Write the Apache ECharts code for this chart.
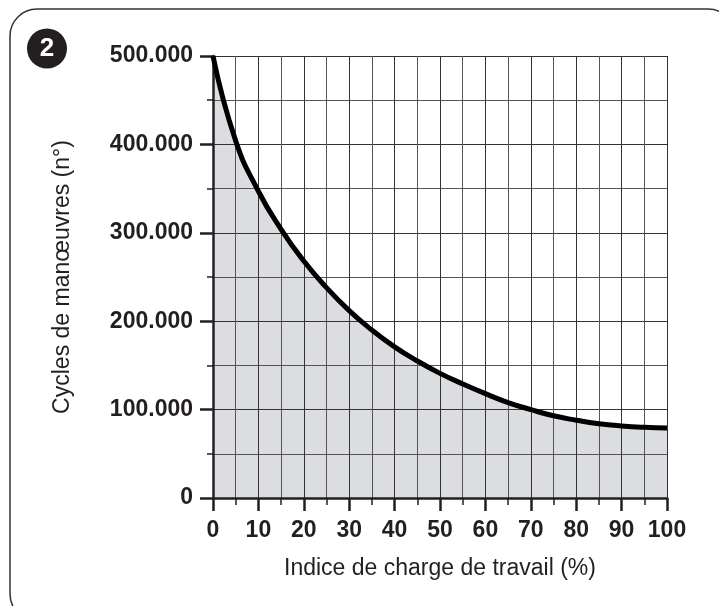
<!DOCTYPE html>
<html>
<head>
<meta charset="utf-8">
<script src="https://cdn.jsdelivr.net/npm/echarts@6/dist/echarts.min.js"></script>
<style>
html,body{margin:0;padding:0;background:#fff;}
#c{width:719px;height:606px;}
</style>
</head>
<body>
<div id="c"></div>
<script>
// Data
const loadIndex = [0, 5, 10, 15, 20, 25, 30, 35, 40, 45, 50, 55, 60, 65, 70, 75, 80, 85, 90, 95, 100];
const cycles = [500000, 404000, 347000, 304000, 268000, 238000, 212000, 190000, 171000, 155000, 141000, 129000, 118000, 108000, 100000, 93000, 88000, 84000, 81500, 80000, 79300];
const xTitle = 'Indice de charge de travail (%)';
const yTitle = 'Cycles de manœuvres (n°)';
const figureNumber = '2';

const points = loadIndex.map((x, i) => [x, cycles[i]]);
const ink = '#231f20';
const fontFam = '"Liberation Sans", Arial, Helvetica, sans-serif';

function fmtThousands(v) {
  if (v === 0) return '0';
  return String(v).replace(/\B(?=(\d{3})+(?!\d))/g, '.');
}

const chart = echarts.init(document.getElementById('c'), null, {renderer: 'canvas'});
chart.setOption({
  animation: false,
  backgroundColor: '#ffffff',
  grid: {left: 213, right: 52, top: 56, bottom: 108, containLabel: false},
  xAxis: {
    type: 'value', min: 0, max: 100, interval: 10, z: 3,
    name: xTitle, nameLocation: 'middle', nameGap: 59,
    nameTextStyle: {fontFamily: fontFam, fontSize: 23, color: ink},
    axisLine: {show: true, onZero: false, lineStyle: {color: ink, width: 2.5}},
    axisTick: {show: true, length: 13, lineStyle: {color: ink, width: 2.5}},
    minorTick: {show: true, splitNumber: 2, length: 7, lineStyle: {color: ink, width: 1.5}},
    axisLabel: {fontFamily: fontFam, fontSize: 23, fontWeight: 'bold', color: ink, margin: 21},
    splitLine: {show: true, lineStyle: {color: '#333', width: 1}},
    minorSplitLine: {show: true, lineStyle: {color: '#555', width: 1}}
  },
  yAxis: {
    type: 'value', min: 0, max: 500000, interval: 100000, z: 3,
    name: yTitle, nameLocation: 'middle', nameGap: 139, nameRotate: 90,
    nameTextStyle: {fontFamily: fontFam, fontSize: 23, color: ink},
    axisLine: {show: true, onZero: false, lineStyle: {color: ink, width: 2.5}},
    axisTick: {show: true, length: 13, lineStyle: {color: ink, width: 2.5}},
    minorTick: {show: true, splitNumber: 2, length: 6, lineStyle: {color: ink, width: 1.5}},
    axisLabel: {fontFamily: fontFam, fontSize: 23, fontWeight: 'bold', color: ink, margin: 20,
      formatter: fmtThousands},
    splitLine: {show: true, lineStyle: {color: '#333', width: 1}},
    minorSplitLine: {show: true, lineStyle: {color: '#555', width: 1}}
  },
  series: [
    {
      type: 'line', data: points, smooth: 0.5, showSymbol: false, z: 1,
      lineStyle: {width: 0, color: 'transparent'},
      areaStyle: {color: '#dcdde0', opacity: 1}
    },
    {
      type: 'line', data: points, smooth: 0.5, showSymbol: false, z: 5,
      lineStyle: {width: 5, color: '#000'}
    }
  ],
  graphic: [
    {type: 'rect', z: 10, silent: true,
      shape: {x: 10, y: 9, width: 725, height: 612, r: 27},
      style: {fill: 'none', stroke: '#333', lineWidth: 1.5}},
    {type: 'circle', z: 10, silent: true,
      shape: {cx: 47, cy: 48.5, r: 20},
      style: {fill: ink}},
    {type: 'text', z: 11, silent: true, x: 47, y: 49,
      style: {text: figureNumber, fill: '#fff', font: 'bold 26px ' + fontFam, align: 'center', verticalAlign: 'middle'}}
  ]
});
</script>
</body>
</html>
